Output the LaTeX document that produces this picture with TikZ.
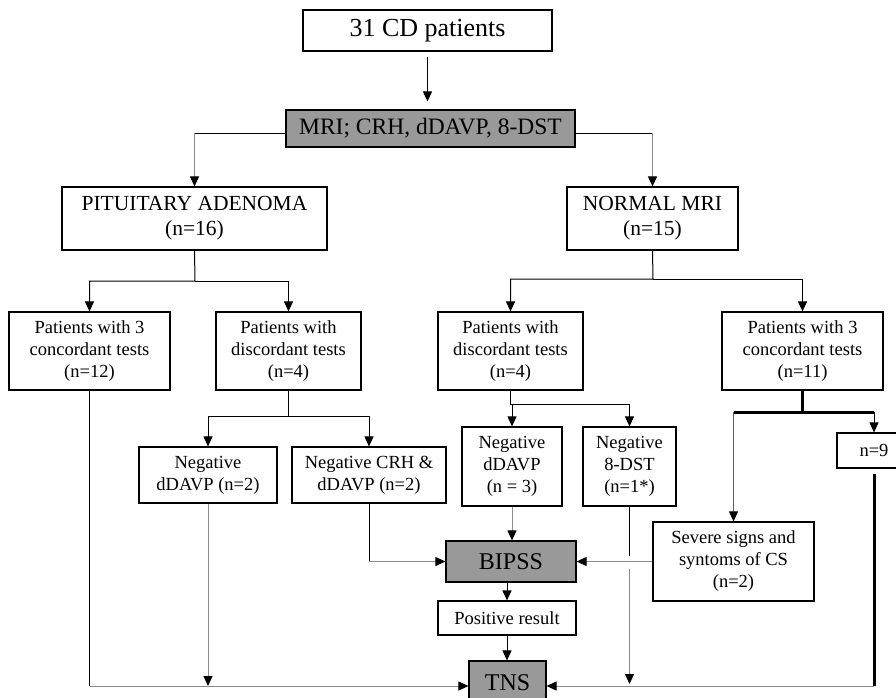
\documentclass[tikz,border=0pt]{standalone}
\usepackage{fontspec}
\setmainfont{Liberation Serif}
\usetikzlibrary{arrows.meta}

% Colours used in the chart
\definecolor{r153g153b153}{rgb}{0.600000,0.600000,0.600000}
\definecolor{r140g140b140}{rgb}{0.550000,0.550000,0.550000}
\definecolor{r90g90b90}{rgb}{0.350000,0.350000,0.350000}

\tikzset{
  box/.style={draw, line width=1.2pt, align=center, inner sep=0pt,
    font=\fontsize{18.5}{22}\selectfont},
  shadedbox/.style={box, fill=r153g153b153},
  blackwire/.style={line width=1pt},
  darkwire/.style={line width=0.9pt, draw=r90g90b90},
  greywire/.style={line width=1pt, draw=r140g140b140},
  thickwire/.style={line width=3pt},
  headed/.style={-{Triangle[length=10pt,width=9pt,color=black]}},
}

\begin{document}
\begin{tikzpicture}[x=1pt,y=-1pt]
\useasboundingbox[fill=white] (0,0) rectangle (896,697);

% Box 31 CD patients
\node[box, minimum width=249pt, minimum height=41pt, font=\fontsize{26}{30}\selectfont] (patients) at (427.5,30.5) {31 CD patients};

% Box MRI
\node[shadedbox, minimum width=289pt, minimum height=37pt, font=\fontsize{23.5}{27}\selectfont] (mri) at (430.5,128.5) {MRI; CRH, dDAVP, 8-DST};

% Boxes adenoma / normal MRI
\node[box, minimum width=265pt, minimum height=63pt, font=\fontsize{21.5}{25}\selectfont] (adenoma) at (194.5,218.5) {PITUITARY ADENOMA\\(n=16)};
\node[box, minimum width=171pt, minimum height=63pt, font=\fontsize{21.5}{25}\selectfont] (normal) at (652.5,218.5) {NORMAL MRI\\(n=15)};

% Boxes of the test results
\node[box, minimum width=161pt, minimum height=78pt] (concL) at (89.5,351) {Patients with 3\\concordant tests\\(n=12)};
\node[box, minimum width=145pt, minimum height=78pt] (discL) at (288.5,351) {Patients with\\discordant tests\\(n=4)};
\node[box, minimum width=145pt, minimum height=78pt] (discR) at (510.5,351) {Patients with\\discordant tests\\(n=4)};
\node[box, minimum width=161pt, minimum height=78pt] (concR) at (802.5,351) {Patients with 3\\concordant tests\\(n=11)};

% Boxes of the negative tests
\node[box, minimum width=138pt, minimum height=56pt] (negdL) at (208,475) {Negative\\dDAVP (n=2)};
\node[box, minimum width=154pt, minimum height=56pt] (negcrh) at (369,475) {Negative CRH \&\\dDAVP (n=2)};
\node[box, minimum width=100pt, minimum height=79pt] (negdR) at (512,466.5) {Negative\\dDAVP\\(n = 3)};
\node[box, minimum width=93pt, minimum height=79pt] (neg8) at (629.5,466.5) {Negative\\8-DST\\(n=1*)};
\node[box, minimum width=74pt, minimum height=35pt] (nine) at (874,450.5) {n=9};
\node[box, minimum width=161pt, minimum height=79pt] (severe) at (733.5,561.5) {Severe signs and\\syntoms of CS\\(n=2)};

% Boxes BIPSS, positive result, TNS
\node[shadedbox, minimum width=130pt, minimum height=41pt, font=\fontsize{24}{28}\selectfont] (bipss) at (511,561.5) {BIPSS};
\node[box, minimum width=138pt, minimum height=34pt] (positive) at (507,618) {Positive result};
\node[shadedbox, minimum width=77pt, minimum height=50pt, font=\fontsize{24}{28}\selectfont] (tns) at (507.5,686) {\raisebox{6pt}{TNS}};

% Drawing line patients MRI
\draw[blackwire, headed, shorten <=5pt, shorten >=8pt] (patients.south) -- (patients.south |- mri.north);

% Drawing lines MRI adenoma, MRI normal
\coordinate (mL) at (194.5,133);
\coordinate (mR) at (652.5,133);
\draw[blackwire] (mri.west |- mL) -- (mL);
\draw[greywire, headed] (mL) -- (adenoma.north);
\draw[blackwire] (mri.east |- mR) -- (mR);
\draw[greywire, headed] (mR) -- (normal.north);

% Drawing split below adenoma
\coordinate (jA) at (195,281);
\draw[blackwire, headed] (adenoma.south) -- (jA) -| (concL.north);
\draw[blackwire, headed] (jA) -| (discL.north);

% Drawing split below normal MRI
\coordinate (jN) at (653,279);
\draw[blackwire, headed] (normal.south) -- (jN) -| (discR.north);
\draw[blackwire, headed] (jN) -| (concR.north);

% Drawing split below discordant tests (left)
\coordinate (jDL) at (288.5,416);
\draw[blackwire, headed] (discL.south) -- (jDL) -| (negdL.north);
\draw[blackwire, headed] (jDL) -| (negcrh.north);

% Drawing split below discordant tests (right)
\coordinate (jDR) at (510.5,404);
\draw[blackwire, headed] (discR.south) -- (jDR) -| (negdR.north);
\draw[blackwire, headed] (jDR) -| (neg8.north);

% Drawing split below concordant tests (right)
\coordinate (jCR) at (802.5,412);
\draw[thickwire] (concR.south) -- (jCR);
\draw[thickwire] (jCR -| severe.north) -- (jCR -| nine.north);
\draw[darkwire, headed] (jCR -| severe.north) -- (severe.north);
\draw[blackwire, headed] (jCR -| nine.north) -- (nine.north);

% Drawing lines into BIPSS
\draw[blackwire] (negcrh.south) -- (negcrh.south |- bipss.west);
\draw[greywire, headed] (negcrh.south |- bipss.west) -- (bipss.west);
\draw[greywire, headed] (negdR.south) -- (negdR.south |- bipss.north);
\draw[greywire, headed] (severe.west) -- (bipss.east);

% Drawing line 8-DST, broken where it crosses
\draw[blackwire] (neg8.south) -- ([yshift=6pt]neg8.south |- bipss.east);
\draw[greywire, headed] ([yshift=-7pt]neg8.south |- bipss.east) -- ([yshift=2pt]neg8.south |- tns.east);

% Drawing lines BIPSS positive TNS
\draw[blackwire, headed] (positive.north |- bipss.south) -- (positive.north);
\draw[blackwire, headed] (positive.south) -- (positive.south |- tns.north);

% Drawing lines into TNS
\draw[blackwire] (concL.south) -- (concL.south |- tns.west);
\draw[greywire, headed] (concL.south |- tns.west) -- (tns.west);
\draw[greywire, headed] (negdL.south) -- (negdL.south |- tns.west);
\draw[thickwire] ([yshift=-5pt]nine.south) -- (nine.south |- tns.east);
\draw[greywire, headed] (nine.south |- tns.east) -- (tns.east);
\end{tikzpicture}
\end{document}
